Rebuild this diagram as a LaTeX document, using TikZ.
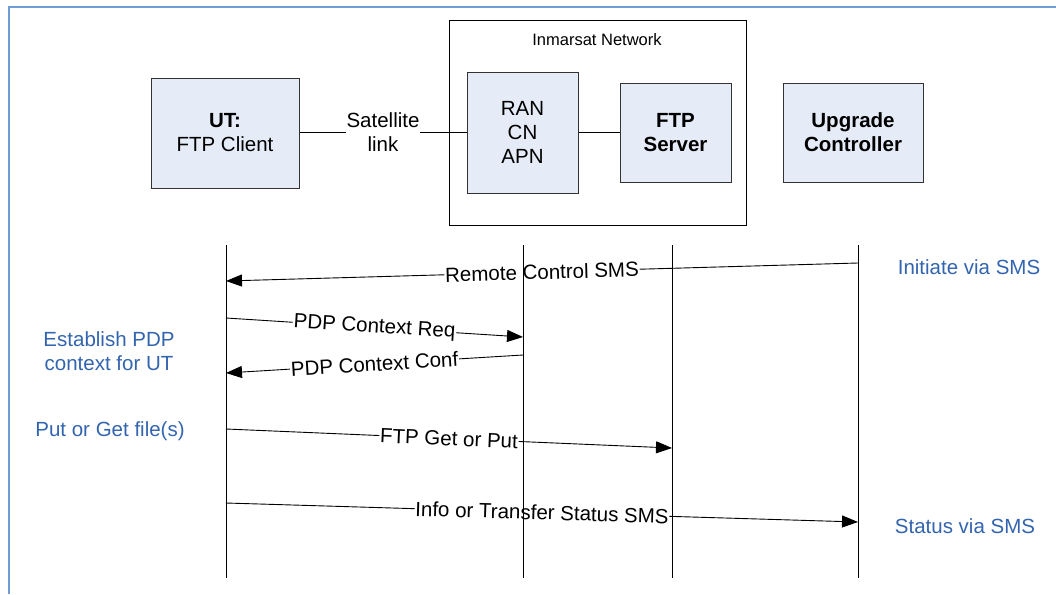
\documentclass[tikz,border=0pt]{standalone}
\usepackage{fontspec}
\setmainfont{Liberation Sans}
\usetikzlibrary{arrows.meta}
\definecolor{boxfill}{RGB}{230,236,247}
\definecolor{frameblue}{RGB}{112,157,212}
\definecolor{notetext}{RGB}{50,100,175}
\tikzset{
  base/.style={font=\fontsize{20.5}{24}\selectfont},
  entity/.style={base, draw=black!80, line width=1pt, fill=boxfill, align=center, inner sep=0pt},
  lifeline/.style={draw=black, line width=1pt},
  msg/.style={draw=black, line width=0.9pt, -{Triangle[length=16pt,width=12pt]}},
  msglabel/.style={base, fill=white, inner sep=0.8pt, sloped, midway},
  note/.style={base, text=notetext, align=center},
}
\begin{document}
\begin{tikzpicture}[x=1pt,y=-1pt]
\useasboundingbox (0,0) rectangle (1056,594);
% frame
\draw[frameblue, line width=2pt] (8.5,594) -- (8.5,7) -- (1056,7);
% network box
\node[draw=black, line width=1pt, minimum width=297pt, minimum height=204pt, inner sep=0pt] (net) at (597.5,123) {};
\node[font=\fontsize{16.5}{19}\selectfont] (netlabel) at (597,40) {Inmarsat Network};
% entities
\node[entity, minimum width=148pt, minimum height=110pt] (ut) at (225,133) {\textbf{UT:}\\FTP Client};
\node[entity, minimum width=111pt, minimum height=121pt] (ran) at (522.5,132.5) {RAN\\CN\\APN};
\node[entity, minimum width=111pt, minimum height=99pt] (ftp) at (675.5,132.5) {\textbf{FTP}\\\textbf{Server}};
\node[entity, minimum width=140pt, minimum height=99pt] (uc) at (853,132.5) {\textbf{Upgrade}\\\textbf{Controller}};
% links
\draw[line width=1pt] (ut.east |- 0,132) -- node[base, fill=white, inner sep=0.5pt, align=center] (sat) {Satellite\\link} (ran.west |- 0,132);
\draw[line width=1pt] (ran.east |- 0,132) -- (ftp.west |- 0,132);
% lifeline coordinates
\coordinate (l1t) at (226,245); \coordinate (l1b) at (226,578);
\coordinate (l2t) at (523,245); \coordinate (l2b) at (523,578);
\coordinate (l3t) at (672,245); \coordinate (l3b) at (672,578);
\coordinate (l4t) at (858,245); \coordinate (l4b) at (858,578);
% message end points
\coordinate (m1s) at (858,263); \coordinate (m1e) at (226,281);
\coordinate (m2s) at (226,318); \coordinate (m2e) at (523,337);
\coordinate (m3s) at (523,355); \coordinate (m3e) at (226,373);
\coordinate (m4s) at (226,429); \coordinate (m4e) at (672,448);
\coordinate (m5s) at (226,503); \coordinate (m5e) at (858,522);
% messages
\draw[msg] (m1s) -- node[msglabel] (t1) {Remote Control SMS} (m1e);
\draw[msg] (m2s) -- node[msglabel] (t2) {PDP Context Req} (m2e);
\draw[msg] (m3s) -- node[msglabel] (t3) {PDP Context Conf} (m3e);
\draw[msg] (m4s) -- node[msglabel] (t4) {FTP Get or Put} (m4e);
\draw[msg] (m5s) -- node[msglabel] (t5) {Info or Transfer Status SMS} (m5e);
% lifelines
\draw[lifeline] (l1t) -- (l1b);
\draw[lifeline] (l2t) -- (l2b);
\draw[lifeline] (l3t) -- (l3b);
\draw[lifeline] (l4t) -- (l4b);
% notes
\node[note] (n1) at (969,267) {Initiate via SMS};
\node[note] (n2) at (109,351) {Establish PDP\\context for UT};
\node[note] (n3) at (110,431) {Put or Get file(s)};
\node[note] (n4) at (965,526) {Status via SMS};
\end{tikzpicture}
\end{document}
